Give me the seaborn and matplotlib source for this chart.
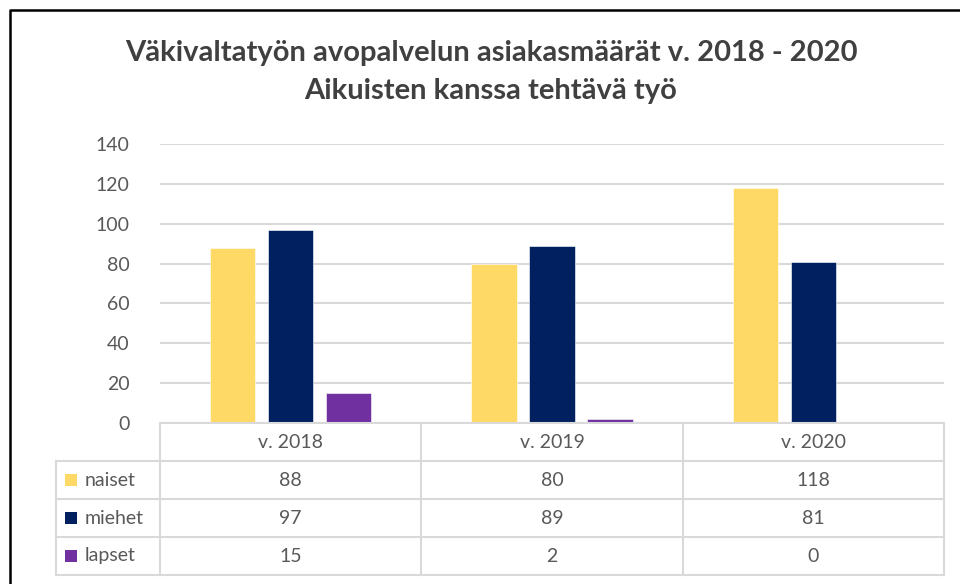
import pandas as pd
import numpy as np
import seaborn as sns
import matplotlib.pyplot as plt
from matplotlib.lines import Line2D
from matplotlib.patches import Rectangle

years = ['v. 2018', 'v. 2019', 'v. 2020']
groups = ['naiset', 'miehet', 'lapset']
naiset = [88, 80, 118]
miehet = [97, 89, 81]
lapset = [15, 2, 0]
colors = ['#FFD966', '#002060', '#7030A0']

title = 'Väkivaltatyön avopalvelun asiakasmäärät v. 2018 - 2020\nAikuisten kanssa tehtävä työ'

df = pd.DataFrame({
    'vuosi': years * 3,
    'ryhma': [g for g in groups for _ in years],
    'maara': naiset + miehet + lapset,
})

sns.set_style('white')
plt.rcParams['font.family'] = ['Lato', 'DejaVu Sans']

text_col = '#595959'
grid_col = '#D9D9D9'

fig = plt.figure(figsize=(9.6, 5.84), dpi=100)
ax = fig.add_axes([160 / 960, 1 - 423 / 584, 784 / 960, 279 / 584])

sns.barplot(data=df, x='vuosi', y='maara', hue='ryhma', order=years,
            hue_order=groups, palette=colors, saturation=1, width=0.667,
            gap=0.22, edgecolor='white', linewidth=0.4, legend=False, ax=ax)

ax.set_ylim(0, 140)
ax.set_xlim(-0.5, len(years) - 0.5)
ax.set_yticks(np.arange(0, 141, 20))
ax.yaxis.grid(True, color=grid_col, linewidth=1.5)
ax.set_axisbelow(True)
ax.tick_params(axis='y', length=0, pad=22, labelsize=14, labelcolor=text_col)
ax.set_xticks([])
ax.set_xlabel('')
ax.set_ylabel('')
for s in ax.spines.values():
    s.set_visible(False)

# data table under the plot
row_h = 38 / 279
lab_left = (56 - 160) / 784
tr = ax.get_xaxis_transform()
lw = 1.5

def hline(x0, x1, y, transform):
    ax.add_line(Line2D([x0, x1], [y, y], transform=transform, color=grid_col,
                       linewidth=lw, clip_on=False))

def vline(x, y0, y1, transform):
    ax.add_line(Line2D([x, x], [y0, y1], transform=transform, color=grid_col,
                       linewidth=lw, clip_on=False))

n = len(years)
hline(-0.5, n - 0.5, 0, tr)
for k in range(1, len(groups) + 2):
    hline(lab_left, 1, -k * row_h, ax.transAxes)
for i in range(n + 1):
    vline(i - 0.5, 0, -(len(groups) + 1) * row_h, tr)
vline(lab_left, -row_h, -(len(groups) + 1) * row_h, ax.transAxes)

for i, yr in enumerate(years):
    ax.text(i, -0.5 * row_h, yr, transform=tr, ha='center', va='center',
            fontsize=14, color=text_col)

values = [naiset, miehet, lapset]
for r, (g, vals, c) in enumerate(zip(groups, values, colors)):
    yc = -(r + 1.5) * row_h
    sq = 12 / 784
    ax.add_patch(Rectangle((lab_left + 9 / 784, yc - 6 / 279), sq, 12 / 279,
                           transform=ax.transAxes, facecolor=c,
                           edgecolor='none', clip_on=False))
    ax.text(lab_left + 29 / 784, yc, g, transform=ax.transAxes, ha='left',
            va='center', fontsize=14, color=text_col)
    for i, v in enumerate(vals):
        ax.text(i, yc, str(v), transform=tr, ha='center', va='center',
                fontsize=14, color=text_col)

fig.text(491 / 960, 1 - 72 / 584, title, ha='center', va='center',
         fontsize=21, fontweight='bold', color='#404040', linespacing=1.55)

# chart frame (cropped at right and bottom)
fig.add_artist(Line2D([9.5 / 960, 9.5 / 960, 1], [0, 1 - 9.5 / 584, 1 - 9.5 / 584],
                      transform=fig.transFigure, color='black', linewidth=1.8))

fig.savefig('out.png', dpi=100, facecolor='white')
